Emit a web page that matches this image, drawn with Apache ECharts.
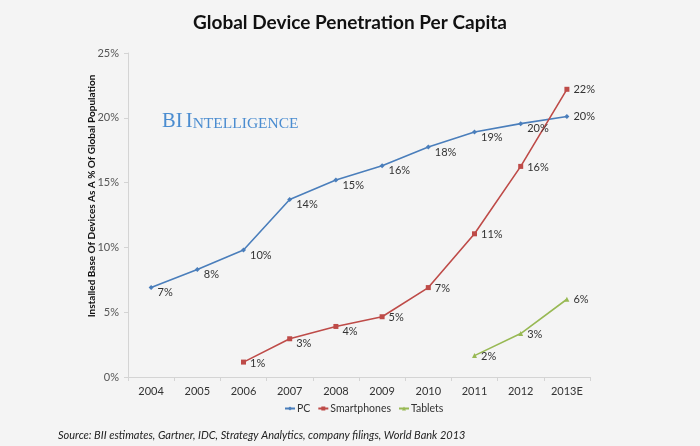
<!DOCTYPE html>
<html>
<head>
<meta charset="utf-8">
<script src="https://cdn.jsdelivr.net/npm/echarts@6/dist/echarts.min.js"></script>
<style>
html,body{margin:0;padding:0;background:#f4f4f4;}
#chart{width:700px;height:446px;}
</style>
</head>
<body>
<div id="chart"></div>
<script>
var categories = ['2004','2005','2006','2007','2008','2009','2010','2011','2012','2013E'];
var pcValues = [6.9, 8.3, 9.8, 13.7, 15.2, 16.3, 17.75, 18.9, 19.55, 20.1];
var smartphoneValues = [null, null, 1.15, 2.95, 3.9, 4.65, 6.9, 11.05, 16.25, 22.2];
var tabletValues = [null, null, null, null, null, null, null, 1.65, 3.35, 6.0];
var yTicks = [0, 5, 10, 15, 20, 25];

var chart = echarts.init(document.getElementById('chart'), null, {renderer: 'canvas'});
var FONT = 'Lato';
var blue = '#4a7ebb', red = '#be4b48', green = '#98b954';

function labelled(values, offsets, lastOffset) {
  return values.map(function (v, i) {
    if (v === null) return null;
    var off = (i === values.length - 1) ? lastOffset : (offsets[i] || [0, 1]);
    return {value: v, label: {offset: off}};
  });
}
var pcOffsets = categories.map(function () { return [0, 5]; });
var spOffsets = categories.map(function () { return [0, 1]; });
spOffsets[3] = [0, 5]; spOffsets[4] = [0, 5];
var tbOffsets = categories.map(function () { return [0, 1]; });

function pctLabel(p) { return Math.round(p.value) + '%'; }

var baseLabel = {
  show: true, position: 'right', distance: 4,
  fontFamily: FONT, fontSize: 11, color: '#333', formatter: pctLabel
};

chart.setOption({
  backgroundColor: '#f4f4f4',
  animation: false,
  title: {
    text: 'Global Device Penetration Per Capita',
    left: 'center', top: 8,
    textStyle: {fontFamily: FONT, fontWeight: 'bold', fontSize: 19, color: '#111'}
  },
  grid: {left: 128, right: 110, top: 53, bottom: 69},
  legend: {
    top: 403, left: 284, padding: 0,
    itemWidth: 10, itemHeight: 5, itemGap: 7,
    textStyle: {fontFamily: FONT, fontSize: 10.5, color: '#333', padding: [0, 0, 0, -3]},
    data: ['PC', 'Smartphones', 'Tablets']
  },
  xAxis: {
    type: 'category', data: categories, boundaryGap: true,
    axisLine: {lineStyle: {color: '#d4d4d4', width: 1}},
    axisTick: {show: true, length: 4, inside: false, lineStyle: {color: '#d4d4d4'}},
    axisLabel: {fontFamily: FONT, fontSize: 11, color: '#333', margin: 9},
    splitLine: {show: false}
  },
  yAxis: {
    type: 'value', min: 0, max: 25, interval: 5,
    axisLine: {show: true, lineStyle: {color: '#d4d4d4', width: 1}},
    axisTick: {show: true, length: 4, inside: false, lineStyle: {color: '#d4d4d4'}},
    axisLabel: {fontFamily: FONT, fontSize: 11, color: '#555', margin: 9,
      formatter: function (v) { return yTicks.indexOf(v) >= 0 ? v + '%' : ''; }},
    splitLine: {show: false}
  },
  graphic: [
    {
      type: 'text', x: 92, y: 196, rotation: Math.PI / 2,
      style: {
        text: 'Installed Base Of Devices As A % Of Global Population',
        font: 'bold 10px Lato', fill: '#111', align: 'center', verticalAlign: 'middle'
      }
    },
    {
      type: 'text', left: 162, top: 111,
      style: {
        text: '{b|BI} {b|I}{s|NTELLIGENCE}',
        rich: {
          b: {fontFamily: 'Liberation Serif', fontSize: 20.5, fill: '#4a8cd0', verticalAlign: 'bottom'},
          s: {fontFamily: 'Liberation Serif', fontSize: 15.5, fill: '#4a8cd0', verticalAlign: 'bottom'}
        }
      }
    },
    {
      type: 'text', left: 58, top: 430,
      style: {
        text: 'Source: BII estimates, Gartner, IDC, Strategy Analytics, company filings, World Bank 2013',
        font: 'italic 11px Lato', fill: '#222'
      }
    }
  ],
  series: [
    {
      name: 'PC', type: 'line', data: labelled(pcValues, pcOffsets, [0, 0]),
      color: blue, symbol: 'diamond', symbolSize: 5, showSymbol: true,
      lineStyle: {width: 1.6, color: blue}, itemStyle: {color: blue},
      label: baseLabel
    },
    {
      name: 'Smartphones', type: 'line', data: labelled(smartphoneValues, spOffsets, [0, 0]),
      color: red, symbol: 'rect', symbolSize: 5, showSymbol: true,
      lineStyle: {width: 1.6, color: red}, itemStyle: {color: red},
      label: baseLabel
    },
    {
      name: 'Tablets', type: 'line', data: labelled(tabletValues, tbOffsets, [0, 0]),
      color: green, symbol: 'triangle', symbolSize: 5, showSymbol: true,
      lineStyle: {width: 1.6, color: green}, itemStyle: {color: green},
      label: baseLabel
    }
  ]
});
</script>
</body>
</html>
